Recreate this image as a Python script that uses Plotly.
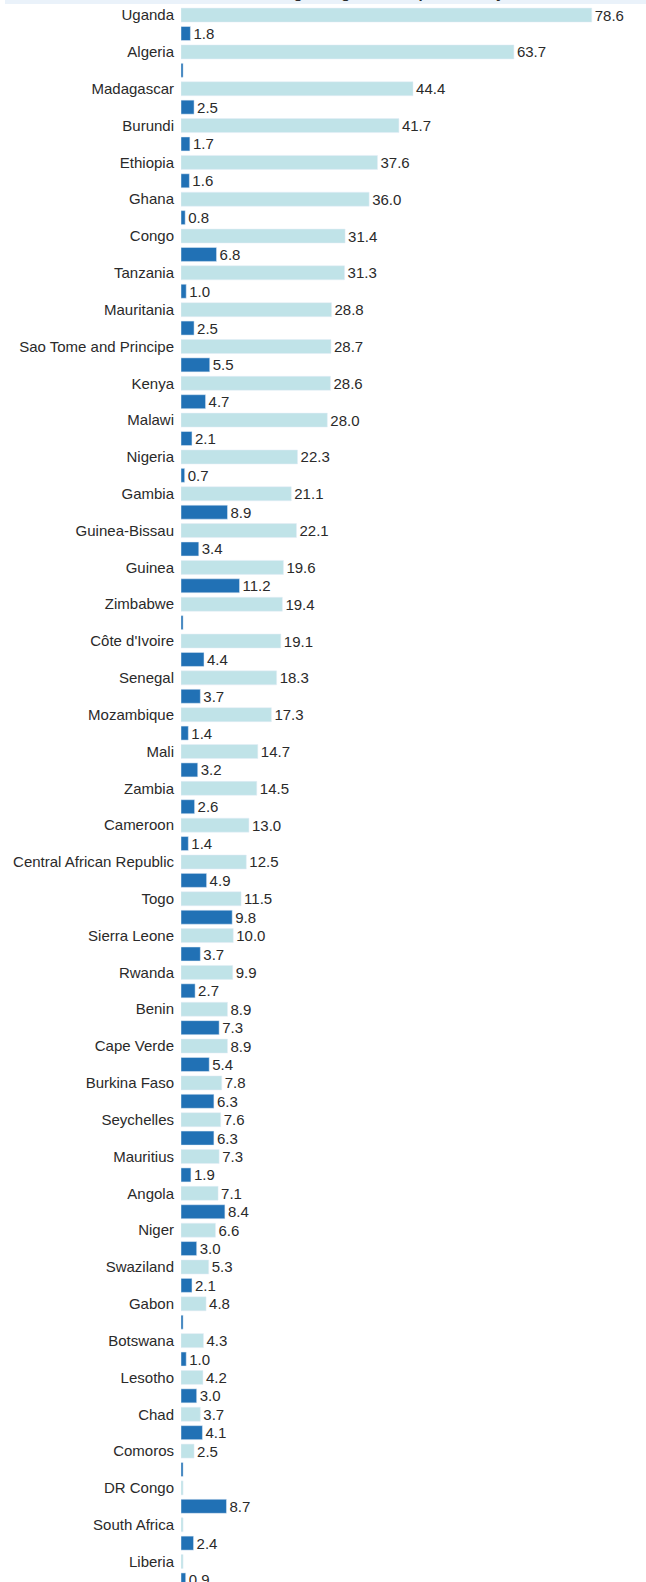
import plotly.graph_objects as go

countries = ["Uganda", "Algeria", "Madagascar", "Burundi", "Ethiopia", "Ghana", "Congo",
             "Tanzania", "Mauritania", "Sao Tome and Principe", "Kenya", "Malawi", "Nigeria",
             "Gambia", "Guinea-Bissau", "Guinea", "Zimbabwe", "Côte d'Ivoire", "Senegal",
             "Mozambique", "Mali", "Zambia", "Cameroon", "Central African Republic", "Togo",
             "Sierra Leone", "Rwanda", "Benin", "Cape Verde", "Burkina Faso", "Seychelles",
             "Mauritius", "Angola", "Niger", "Swaziland", "Gabon", "Botswana", "Lesotho",
             "Chad", "Comoros", "DR Congo", "South Africa", "Liberia"]
series_a = [78.6, 63.7, 44.4, 41.7, 37.6, 36.0, 31.4, 31.3, 28.8, 28.7, 28.6, 28.0, 22.3,
            21.1, 22.1, 19.6, 19.4, 19.1, 18.3, 17.3, 14.7, 14.5, 13.0, 12.5, 11.5, 10.0,
            9.9, 8.9, 8.9, 7.8, 7.6, 7.3, 7.1, 6.6, 5.3, 4.8, 4.3, 4.2, 3.7, 2.5,
            None, None, None]
series_b = [1.8, None, 2.5, 1.7, 1.6, 0.8, 6.8, 1.0, 2.5, 5.5, 4.7, 2.1, 0.7,
            8.9, 3.4, 11.2, None, 4.4, 3.7, 1.4, 3.2, 2.6, 1.4, 4.9, 9.8, 3.7,
            2.7, 7.3, 5.4, 6.3, 6.3, 1.9, 8.4, 3.0, 2.1, None, 1.0, 3.0, 4.1, None,
            8.7, 2.4, 0.9]
title_text = "Change in agricultural productivity"

LIGHT = "#c0e3e8"
DARK = "#2171b5"
TXT = "#2a2a2a"
MISSING_W = 0.4  # missing values drawn as hairline bars

n = len(countries)
ya = [2 * i for i in range(n)]
yb = [2 * i + 1 for i in range(n)]

def vals(s):
    return [MISSING_W if v is None else v for v in s]

def texts(s):
    return ["" if v is None else f"{v:.1f}" for v in s]

W, H = 646, 1582
ml, mr = 181, 21
row_px = 18.41
top0 = 15.1

fig = go.Figure()
fig.add_trace(go.Bar(x=vals(series_a), y=ya, orientation="h", marker_color=LIGHT,
                     width=0.76, text=texts(series_a), textposition="outside",
                     textfont=dict(size=15, color=TXT), cliponaxis=False,
                     hoverinfo="skip"))
fig.add_trace(go.Bar(x=vals(series_b), y=yb, orientation="h", marker_color=DARK,
                     width=0.76, text=texts(series_b), textposition="outside",
                     textfont=dict(size=15, color=TXT), cliponaxis=False,
                     hoverinfo="skip"))

y_top = -top0 / row_px
y_bot = y_top + H / row_px
plot_w = W - ml - mr
x_max = plot_w / 5.226

fig.update_layout(
    width=W, height=H,
    margin=dict(l=ml, r=mr, t=0, b=0, pad=0),
    paper_bgcolor="white", plot_bgcolor="white",
    showlegend=False, barmode="overlay",
    font=dict(family="Liberation Sans, Arial, sans-serif", size=15, color=TXT),
    uniformtext=dict(minsize=15, mode="show"),
    xaxis=dict(range=[0, x_max], visible=False),
    yaxis=dict(range=[y_bot, y_top], tickmode="array", tickvals=ya, ticktext=countries,
               showgrid=False, zeroline=False, showline=False, ticks="",
               ticklabelstandoff=6, tickfont=dict(size=15, color=TXT)),
    shapes=[dict(type="rect", xref="paper", yref="paper",
                 x0=(5 - ml) / plot_w, x1=(W - ml) / plot_w,
                 y0=1 - 4 / H, y1=1.01, fillcolor="#eaf2fa", line_width=0, layer="below")],
    annotations=[dict(text=f"<b>{title_text}</b>", xref="paper", yref="paper",
                      x=(380 - ml) / plot_w, y=1 - 3 / H, xanchor="center", yanchor="bottom",
                      showarrow=False, font=dict(size=15, color=TXT))],
)

fig.write_html("out.html", config={"displayModeBar": False},
               post_script="document.body.style.margin='0';document.body.style.overflow='hidden';")
